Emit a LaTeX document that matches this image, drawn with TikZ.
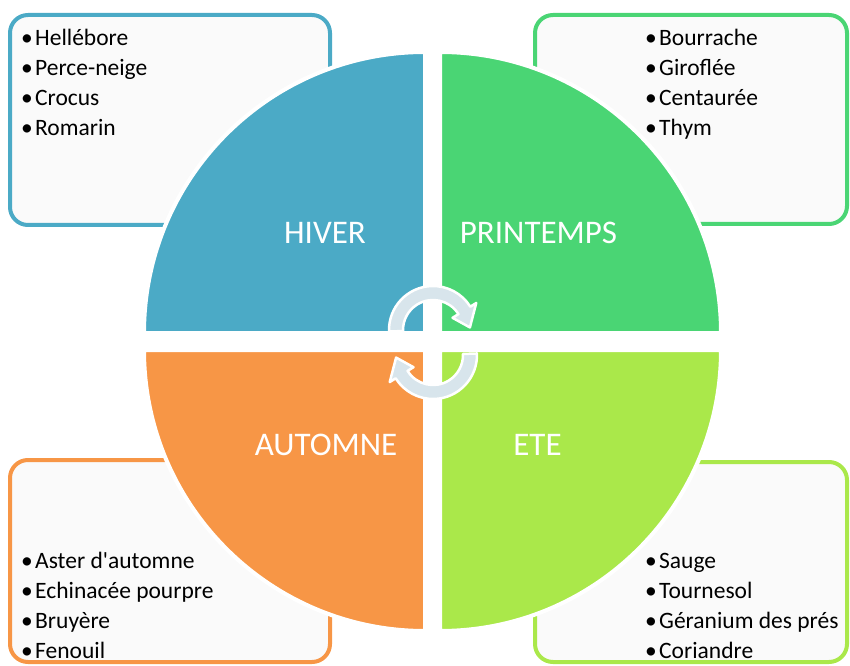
\documentclass[tikz,border=0pt]{standalone}
\usepackage{fontspec}
\setmainfont{Carlito}
\definecolor{chiver}{HTML}{4BAAC6}
\definecolor{cprint}{HTML}{4AD574}
\definecolor{cauto}{HTML}{F79646}
\definecolor{cete}{HTML}{AAE84A}
\definecolor{carrow}{HTML}{D8E5EC}
\definecolor{cboxfill}{HTML}{FAFAFA}
\tikzset{
  listbox/.style={line width=4pt, rounded corners=18pt, fill=cboxfill},
  sector/.style={draw=white, line width=4pt},
  seasonlbl/.style={text=white, font=\fontsize{33}{38}\selectfont, anchor=base, inner sep=0pt},
  item/.style={text=black, font=\fontsize{23.5}{30}\selectfont, anchor=base west, inner sep=0pt},
  cyclearrow/.style={fill=carrow, draw=white, line width=2.5pt, line join=round}
}
\newcommand{\bul}[1]{\makebox[14pt][l]{•}#1}
\begin{document}
\begin{tikzpicture}[x=1pt,y=1pt]
\useasboundingbox (0,0) rectangle (850,665);
% list boxes
\draw[listbox, draw=chiver] (10,650) rectangle (330,440);
\draw[listbox, draw=cprint] (535,650) rectangle (847,441);
\draw[listbox, draw=cauto] (10,205) rectangle (330,3);
\draw[listbox, draw=cete] (535,203) rectangle (847,3);
% sectors
\filldraw[sector, fill=chiver] (425,332) -- (144,332) arc[start angle=180,end angle=90,radius=281] -- cycle;
\filldraw[sector, fill=cprint] (440,332) -- (440,613) arc[start angle=90,end angle=0,radius=281] -- cycle;
\filldraw[sector, fill=cauto] (425,315) -- (425,34) arc[start angle=270,end angle=180,radius=281] -- cycle;
\filldraw[sector, fill=cete] (440,315) -- (721,315) arc[start angle=0,end angle=-90,radius=281] -- cycle;
% season labels
\node[seasonlbl] (hiver) at (325,422) {HIVER};
\node[seasonlbl] (printemps) at (538.5,422) {PRINTEMPS};
\node[seasonlbl] (automne) at (326,210) {AUTOMNE};
\node[seasonlbl] (ete) at (537.5,210) {ETE};
% cycle arrows
\begin{scope}[shift={(433,335)}]
\filldraw[cyclearrow] (182:44) arc[start angle=182,end angle=32,radius=44] -- (32:51) -- (4:37) -- (32:23) -- (32:30) arc[start angle=32,end angle=182,radius=30] -- cycle;
\end{scope}
\begin{scope}[shift={(433,310)}, rotate=180]
\filldraw[cyclearrow] (182:44) arc[start angle=182,end angle=32,radius=44] -- (32:51) -- (4:37) -- (32:23) -- (32:30) arc[start angle=32,end angle=182,radius=30] -- cycle;
\end{scope}
% lists
\node[item] (h1) at (21,619) {\bul{Hellébore}};
\node[item] (h2) at (21,589) {\bul{Perce-neige}};
\node[item] (h3) at (21,559) {\bul{Crocus}};
\node[item] (h4) at (21,529) {\bul{Romarin}};
\node[item] (p1) at (645,619) {\bul{Bourrache}};
\node[item] (p2) at (645,589) {\bul{Giroflée}};
\node[item] (p3) at (645,559) {\bul{Centaurée}};
\node[item] (p4) at (645,529) {\bul{Thym}};
\node[item] (a1) at (21,97) {\bul{Aster d\textquotesingle automne}};
\node[item] (a2) at (21,67) {\bul{Echinacée pourpre}};
\node[item] (a3) at (21,37) {\bul{Bruyère}};
\node[item] (a4) at (21,7) {\bul{Fenouil}};
\node[item] (e1) at (645,97) {\bul{Sauge}};
\node[item] (e2) at (645,67) {\bul{Tournesol}};
\node[item] (e3) at (645,37) {\bul{Géranium des prés}};
\node[item] (e4) at (645,7) {\bul{Coriandre}};
\end{tikzpicture}
\end{document}
